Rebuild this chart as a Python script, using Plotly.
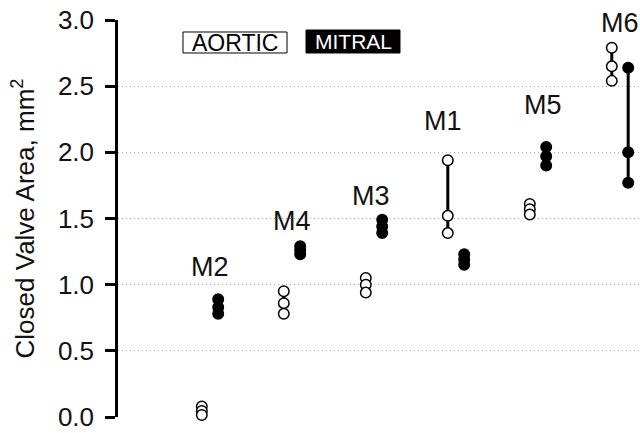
import plotly.graph_objects as go

# ---- data ----
groups = ["M2", "M4", "M3", "M1", "M5", "M6"]
aortic = [
    [0.08, 0.045, 0.015],
    [0.95, 0.86, 0.78],
    [1.05, 1.00, 0.94],
    [1.94, 1.52, 1.39],
    [1.61, 1.57, 1.53],
    [2.79, 2.65, 2.54],
]
mitral = [
    [0.89, 0.83, 0.78],
    [1.29, 1.26, 1.23],
    [1.49, 1.44, 1.39],
    [1.23, 1.19, 1.15],
    [2.04, 1.97, 1.90],
    [2.64, 2.00, 1.77],
]
y_tick_vals = [0.0, 0.5, 1.0, 1.5, 2.0, 2.5, 3.0]
y_tick_text = ["0.0", "0.5", "1.0", "1.5", "2.0", "2.5", "3.0"]

# label placement (layout)
label_y = [1.13, 1.48, 1.67, 2.24, 2.36, 2.98]
label_dx = [0.0, 0.0, -0.04, -0.16, 0.06, 0.0]

FONT = "Liberation Sans, Arial, sans-serif"
OFF = 0.1

fig = go.Figure()
for i, g in enumerate(groups):
    fig.add_trace(go.Scatter(
        x=[i - OFF] * len(aortic[i]), y=aortic[i], mode="lines+markers",
        line=dict(color="black", width=3),
        marker=dict(symbol="circle", size=10.5, color="white",
                    line=dict(color="black", width=1.5)),
        cliponaxis=False, showlegend=False, name="Aortic " + g))
    fig.add_trace(go.Scatter(
        x=[i + OFF] * len(mitral[i]), y=mitral[i], mode="lines+markers",
        line=dict(color="black", width=3),
        marker=dict(symbol="circle", size=10.5, color="black",
                    line=dict(color="black", width=1.5)),
        cliponaxis=False, showlegend=False, name="Mitral " + g))
    fig.add_annotation(x=i + label_dx[i], y=label_y[i], text=g, showarrow=False,
                       font=dict(family=FONT, size=27, color="#111"),
                       xanchor="center", yanchor="middle")

# legend boxes
fig.add_shape(type="rect", xref="paper", yref="paper",
              x0=0.1245, x1=0.3238, y0=0.9169, y1=0.9698,
              line=dict(color="black", width=1), fillcolor="white")
fig.add_shape(type="rect", xref="paper", yref="paper",
              x0=0.3602, x1=0.5402, y0=0.9169, y1=0.9748,
              line=dict(color="black", width=1), fillcolor="black")
fig.add_annotation(xref="paper", yref="paper", x=0.2241, y=0.9433, text="AORTIC",
                   showarrow=False, font=dict(family=FONT, size=23, color="black"),
                   xanchor="center", yanchor="middle")
fig.add_annotation(xref="paper", yref="paper", x=0.4502, y=0.9458, text="MITRAL",
                   showarrow=False, font=dict(family=FONT, size=21, color="white"),
                   xanchor="center", yanchor="middle")

fig.update_layout(
    width=640, height=433,
    margin=dict(l=118, r=0, t=20, b=16),
    paper_bgcolor="white", plot_bgcolor="white",
    font=dict(family=FONT, color="#111"),
    xaxis=dict(range=[-1.122, 5.244], visible=False),
    yaxis=dict(
        range=[0, 3], tickvals=y_tick_vals, ticktext=y_tick_text,
        ticks="outside", ticklen=10, tickwidth=2.5, tickcolor="black",
        showline=True, linewidth=2.5, linecolor="black",
        showgrid=True, gridcolor="#aaaaaa", griddash="1px,3px", gridwidth=1,
        zeroline=False, tickfont=dict(family=FONT, size=26, color="#111"),
        ticklabelstandoff=6,
        title=dict(text="Closed Valve Area, mm<sup>2</sup>",
                   font=dict(family=FONT, size=26, color="#111"), standoff=16),
    ),
)

fig.write_html("out.html")
